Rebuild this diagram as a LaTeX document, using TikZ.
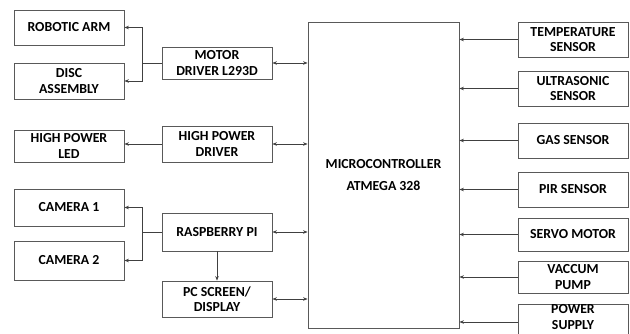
\documentclass[tikz,border=0pt]{standalone}
\usepackage{fontspec}
\setmainfont{Carlito}
\usetikzlibrary{arrows.meta}
\begin{document}
\begin{tikzpicture}[x=1pt,y=-1pt,
  box/.style={draw=black!65, line width=0.8pt, minimum width=110pt, inner sep=0pt, align=center, font=\fontsize{13.8}{15.5}\selectfont\bfseries},
  conn/.style={draw=black!75, line width=0.7pt},
  tip/.style={-{Stealth[length=4.5pt,width=3.5pt]}},
  bi/.style={{Stealth[length=4.5pt,width=3.5pt]}-{Stealth[length=4.5pt,width=3.5pt]}}]
\useasboundingbox (0,0) rectangle (630,334);
% left column
\node[box, minimum height=35pt] (robot) at (69,27.5) {ROBOTIC ARM};
\node[box, minimum height=36pt] (disc) at (69,81) {DISC\\ASSEMBLY};
\node[box, minimum height=32pt] (led) at (69,146) {HIGH POWER\\LED};
\node[box, minimum height=37pt] (cam1) at (69,207.5) {CAMERA 1};
\node[box, minimum height=39pt] (cam2) at (69,260.5) {CAMERA 2};
% middle column
\node[box, minimum height=32pt] (motor) at (217,63) {MOTOR\\DRIVER L293D};
\node[box, minimum height=36pt] (hpd) at (217,144) {HIGH POWER\\DRIVER};
\node[box, minimum height=38pt] (rpi) at (217,232) {RASPBERRY PI};
\node[box, minimum height=36pt] (pc) at (217,299) {PC SCREEN/\\DISPLAY};
% microcontroller
\node[box, minimum width=151pt, minimum height=306pt] (mcu) at (383.5,175) {MICROCONTROLLER\\[7pt]ATMEGA 328};
% right column
\node[box, minimum height=35pt] (temp) at (573,39.5) {TEMPERATURE\\SENSOR};
\node[box, minimum height=35pt] (ultra) at (573,88.5) {ULTRASONIC\\SENSOR};
\node[box, minimum height=35pt] (gas) at (573,140.5) {GAS SENSOR};
\node[box, minimum height=35pt] (pir) at (573,189.5) {PIR SENSOR};
\node[box, minimum height=33pt] (servo) at (573,234.5) {SERVO MOTOR};
\node[box, minimum height=32pt] (vac) at (573,277) {VACCUM\\PUMP};
\node[box, minimum height=36pt, text depth=10pt] (power) at (573,322) {POWER\\SUPPLY};
% junctions
\coordinate (j1) at (142,63);
\coordinate (j2) at (142,232);
% motor driver branch
\draw[conn] (motor.west) -- (j1);
\draw[conn,tip] (j1) |- (robot.east);
\draw[conn,tip] (j1) |- (disc.east);
\draw[conn,bi] (motor.east) -- (motor.east -| mcu.west);
% high power driver
\draw[conn,tip] (hpd.west) -- (hpd.west -| led.east);
\draw[conn,bi] (hpd.east) -- (hpd.east -| mcu.west);
% raspberry pi
\draw[conn] (rpi.west) -- (j2);
\draw[conn,tip] (j2) |- (cam1.east);
\draw[conn,tip] (j2) |- (cam2.east);
\draw[conn,bi] (rpi.east) -- (rpi.east -| mcu.west);
\draw[conn,tip] (rpi.south) -- (pc.north);
\draw[conn,bi] (pc.east) -- (pc.east -| mcu.west);
% right inputs
\foreach \n in {temp,ultra,gas,pir,servo,vac,power}
  \draw[conn,tip] (\n.west) -- (\n.west -| mcu.east);
\end{tikzpicture}
\end{document}
